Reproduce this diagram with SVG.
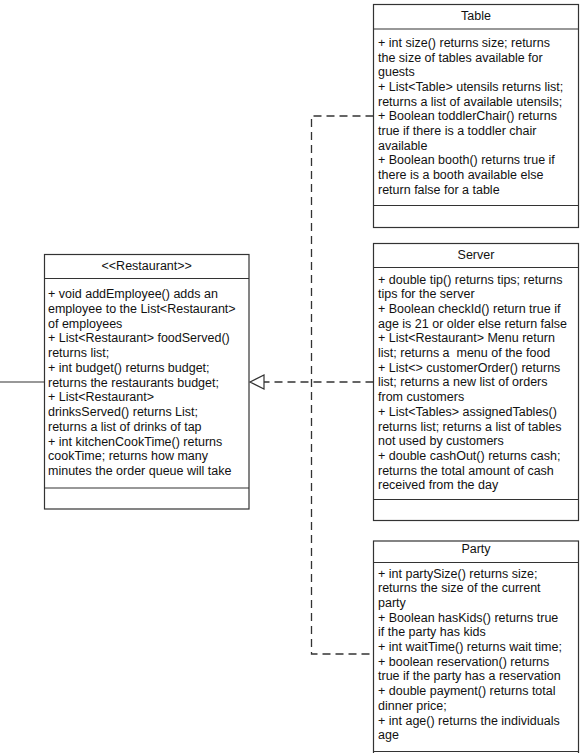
<svg xmlns="http://www.w3.org/2000/svg" width="588" height="753" viewBox="0 0 588 753">
<defs>
<style>
.box{fill:#ffffff;stroke:#333333;stroke-width:1.2}
.sep{stroke:#333333;stroke-width:1.2;fill:none}
.t{font-family:"Liberation Sans",Arial,sans-serif;font-size:12.5px;fill:#111111}
.h{text-anchor:middle}
.dash{stroke:#333333;stroke-width:1.3;fill:none;stroke-dasharray:8 5}
.solid{stroke:#333333;stroke-width:1.2;fill:none}
</style>
</defs>
<rect width="588" height="753" fill="#ffffff"/>
<g id="connectors">
<line class="solid" x1="0" y1="382" x2="44" y2="382"/>
<path class="dash" d="M373.5,382 L264,382"/>
<path d="M250,382 L264,375 L264,389 Z" fill="#ffffff" stroke="#333333" stroke-width="1.2"/>
<path class="dash" d="M373.5,116 L311.5,116 L311.5,654 L373.5,654"/>
</g>
<g id="restaurant">
<rect class="box" x="44.5" y="254.5" width="204.5" height="254.5"/>
<line class="sep" x1="44.5" y1="278.5" x2="249" y2="278.5"/>
<line class="sep" x1="44.5" y1="488" x2="249" y2="488"/>
<text class="t h" x="146.7" y="270">&lt;&lt;Restaurant&gt;&gt;</text>
<text class="t" x="48" y="298">
<tspan x="48" dy="0">+ void addEmployee() adds an</tspan>
<tspan x="48" dy="14.75">employee to the List&lt;Restaurant&gt;</tspan>
<tspan x="48" dy="14.75">of employees</tspan>
<tspan x="48" dy="14.75">+ List&lt;Restaurant&gt; foodServed()</tspan>
<tspan x="48" dy="14.75">returns list;</tspan>
<tspan x="48" dy="14.75">+ int budget() returns budget;</tspan>
<tspan x="48" dy="14.75">returns the restaurants budget;</tspan>
<tspan x="48" dy="14.75">+ List&lt;Restaurant&gt;</tspan>
<tspan x="48" dy="14.75">drinksServed() returns List;</tspan>
<tspan x="48" dy="14.75">returns a list of drinks of tap</tspan>
<tspan x="48" dy="14.75">+ int kitchenCookTime() returns</tspan>
<tspan x="48" dy="14.75">cookTime; returns how many</tspan>
<tspan x="48" dy="14.75">minutes the order queue will take</tspan>
</text>
</g>
<g id="table">
<rect class="box" x="373.5" y="4.5" width="205" height="223"/>
<line class="sep" x1="373.5" y1="29" x2="578.5" y2="29"/>
<line class="sep" x1="373.5" y1="205.5" x2="578.5" y2="205.5"/>
<text class="t h" x="476" y="20">Table</text>
<text class="t" x="378" y="47">
<tspan x="378" dy="0">+ int size() returns size; returns</tspan>
<tspan x="378" dy="14.65">the size of tables available for</tspan>
<tspan x="378" dy="14.65">guests</tspan>
<tspan x="378" dy="14.65">+ List&lt;Table&gt; utensils returns list;</tspan>
<tspan x="378" dy="14.65">returns a list of available utensils;</tspan>
<tspan x="378" dy="14.65">+ Boolean toddlerChair() returns</tspan>
<tspan x="378" dy="14.65">true if there is a toddler chair</tspan>
<tspan x="378" dy="14.65">available</tspan>
<tspan x="378" dy="14.65">+ Boolean booth() returns true if</tspan>
<tspan x="378" dy="14.65">there is a booth available else</tspan>
<tspan x="378" dy="14.65">return false for a table</tspan>
</text>
</g>
<g id="server">
<rect class="box" x="373.5" y="243.5" width="205" height="277"/>
<line class="sep" x1="373.5" y1="267.5" x2="578.5" y2="267.5"/>
<line class="sep" x1="373.5" y1="499.5" x2="578.5" y2="499.5"/>
<text class="t h" x="476" y="258.5">Server</text>
<text class="t" x="378" y="283.5">
<tspan x="378" dy="0">+ double tip() returns tips; returns</tspan>
<tspan x="378" dy="14.7">tips for the server</tspan>
<tspan x="378" dy="14.7">+ Boolean checkId() return true if</tspan>
<tspan x="378" dy="14.7">age is 21 or older else return false</tspan>
<tspan x="378" dy="14.7">+ List&lt;Restaurant&gt; Menu return</tspan>
<tspan x="378" dy="14.7">list; returns a&#160; menu of the food</tspan>
<tspan x="378" dy="14.7">+ List&lt;&gt; customerOrder() returns</tspan>
<tspan x="378" dy="14.7">list; returns a new list of orders</tspan>
<tspan x="378" dy="14.7">from customers</tspan>
<tspan x="378" dy="14.7">+ List&lt;Tables&gt; assignedTables()</tspan>
<tspan x="378" dy="14.7">returns list; returns a list of tables</tspan>
<tspan x="378" dy="14.7">not used by customers</tspan>
<tspan x="378" dy="14.7">+ double cashOut() returns cash;</tspan>
<tspan x="378" dy="14.7">returns the total amount of cash</tspan>
<tspan x="378" dy="14.7">received from the day</tspan>
</text>
</g>
<g id="party">
<rect class="box" x="373.5" y="541" width="205" height="240"/>
<line class="sep" x1="373.5" y1="562.5" x2="578.5" y2="562.5"/>
<line class="sep" x1="373.5" y1="751.5" x2="578.5" y2="751.5"/>
<text class="t h" x="476" y="552.5">Party</text>
<text class="t" x="378" y="577.5">
<tspan x="378" dy="0">+ int partySize() returns size;</tspan>
<tspan x="378" dy="14.7">returns the size of the current</tspan>
<tspan x="378" dy="14.7">party</tspan>
<tspan x="378" dy="14.7">+ Boolean hasKids() returns true</tspan>
<tspan x="378" dy="14.7">if the party has kids</tspan>
<tspan x="378" dy="14.7">+ int waitTime() returns wait time;</tspan>
<tspan x="378" dy="14.7">+ boolean reservation() returns</tspan>
<tspan x="378" dy="14.7">true if the party has a reservation</tspan>
<tspan x="378" dy="14.7">+ double payment() returns total</tspan>
<tspan x="378" dy="14.7">dinner price;</tspan>
<tspan x="378" dy="14.7">+ int age() returns the individuals</tspan>
<tspan x="378" dy="14.7">age</tspan>
</text>
</g>
</svg>
